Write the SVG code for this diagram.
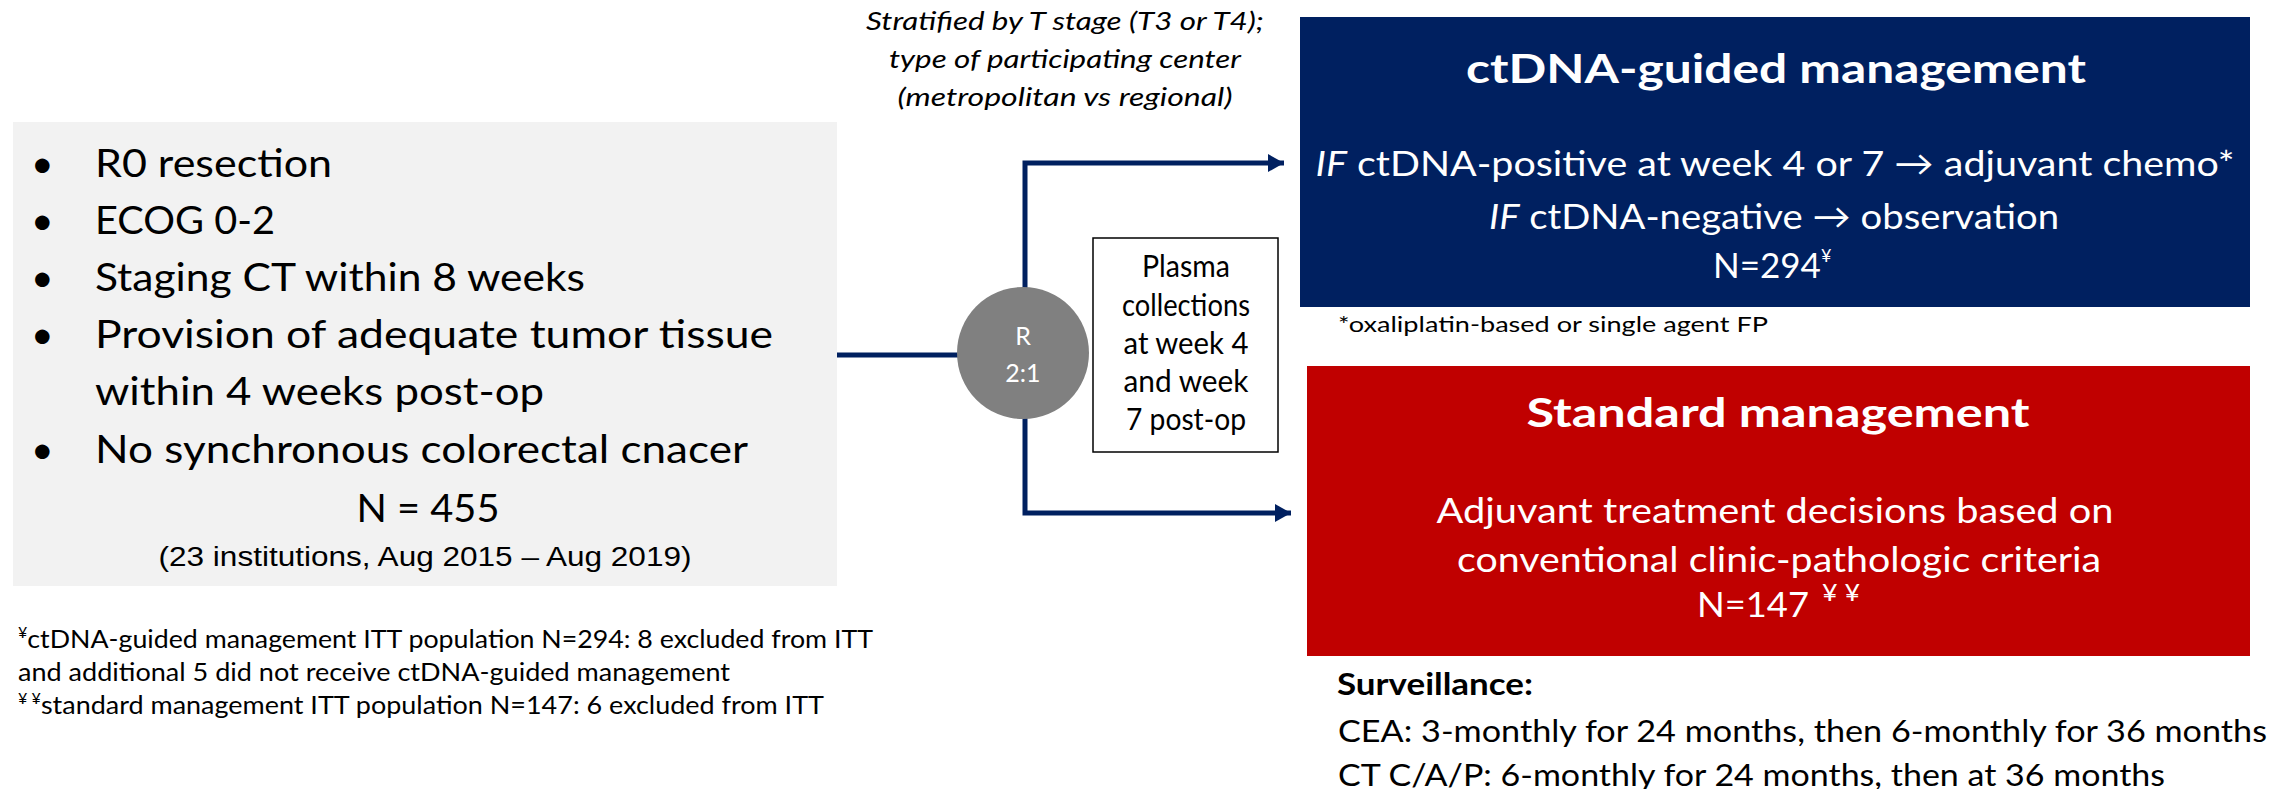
<svg xmlns="http://www.w3.org/2000/svg" width="2295" height="789" viewBox="0 0 2295 789">
<style>
  text { font-family: Lato, "Open Sans", "Liberation Sans", sans-serif; fill: #000; }
  .bul { font-size: 39px; }
  .foot { font-size: 25px; }
  .strat { font-size: 26px; font-style: italic; }
  .w { fill: #fff; }
  .title { font-size: 40px; font-weight: bold; fill: #fff; }
  .body { font-size: 35px; fill: #fff; }
  .plasma { font-size: 30px; }
  .conn { fill: none; stroke: #002060; stroke-width: 5; }
  .surv { font-size: 30px; }
</style>
<defs>
  <marker id="arr" markerUnits="userSpaceOnUse" markerWidth="18" markerHeight="18" refX="16" refY="9" orient="auto">
    <path d="M0,0 L16,9 L0,18 Z" fill="#002060"/>
  </marker>
</defs>
<rect width="2295" height="789" fill="#fff"/>

<g id="eligibility">
  <rect x="13" y="122" width="824" height="464" fill="#f2f2f2"/>
  <g class="bul">
    <text x="31" y="177">•</text><text x="95" y="177" textLength="237" lengthAdjust="spacingAndGlyphs">R0 resection</text>
    <text x="31" y="234">•</text><text x="95" y="234" textLength="180" lengthAdjust="spacingAndGlyphs">ECOG 0-2</text>
    <text x="31" y="291">•</text><text x="95" y="291" textLength="490" lengthAdjust="spacingAndGlyphs">Staging CT within 8 weeks</text>
    <text x="31" y="348">•</text><text x="95" y="348" textLength="678" lengthAdjust="spacingAndGlyphs">Provision of adequate tumor tissue</text>
    <text x="95" y="405" textLength="449" lengthAdjust="spacingAndGlyphs">within 4 weeks post-op</text>
    <text x="31" y="463">•</text><text x="95" y="463" textLength="653" lengthAdjust="spacingAndGlyphs">No synchronous colorectal cnacer</text>
    <text x="428" y="522" text-anchor="middle" textLength="143" lengthAdjust="spacingAndGlyphs">N = 455</text>
  </g>
  <text x="425" y="566" text-anchor="middle" style="font-family:'Liberation Sans',sans-serif;font-size:27px" textLength="533" lengthAdjust="spacingAndGlyphs">(23 institutions, Aug 2015 – Aug 2019)</text>
</g>

<g id="footnotes" class="foot">
  <text x="18" y="648" textLength="855" lengthAdjust="spacingAndGlyphs"><tspan font-size="15" dy="-10">¥</tspan><tspan dy="10">ctDNA-guided management ITT population N=294: 8 excluded from ITT</tspan></text>
  <text x="18" y="681" textLength="712" lengthAdjust="spacingAndGlyphs">and additional 5 did not receive ctDNA-guided management</text>
  <text x="18" y="714" textLength="806" lengthAdjust="spacingAndGlyphs"><tspan font-size="15" dy="-10">¥ ¥</tspan><tspan dy="10">standard management ITT population N=147: 6 excluded from ITT</tspan></text>
</g>

<g id="stratification" class="strat">
  <text x="1065" y="30" text-anchor="middle" textLength="398" lengthAdjust="spacingAndGlyphs">Stratified by T stage (T3 or T4);</text>
  <text x="1065" y="68" text-anchor="middle" textLength="352" lengthAdjust="spacingAndGlyphs">type of participating center</text>
  <text x="1065" y="106" text-anchor="middle" textLength="335" lengthAdjust="spacingAndGlyphs">(metropolitan vs regional)</text>
</g>

<g id="connectors">
  <path class="conn" d="M837 355 H960"/>
  <path class="conn" d="M1025 290 V163 H1284" marker-end="url(#arr)"/>
  <path class="conn" d="M1025 418 V513 H1291" marker-end="url(#arr)"/>
</g>

<g id="randomise">
  <circle cx="1023" cy="353" r="66" fill="#808080"/>
  <text x="1023" y="345" text-anchor="middle" class="w" font-size="25">R</text>
  <text x="1023" y="382" text-anchor="middle" class="w" font-size="25">2:1</text>
</g>

<g id="plasma">
  <rect x="1093" y="238" width="185" height="214" fill="#fff" stroke="#000" stroke-width="1.5"/>
  <g class="plasma">
    <text x="1186" y="277" text-anchor="middle" textLength="88" lengthAdjust="spacingAndGlyphs">Plasma</text>
    <text x="1186" y="316" text-anchor="middle" textLength="128" lengthAdjust="spacingAndGlyphs">collections</text>
    <text x="1186" y="354" text-anchor="middle" textLength="125" lengthAdjust="spacingAndGlyphs">at week 4</text>
    <text x="1186" y="392" text-anchor="middle" textLength="125" lengthAdjust="spacingAndGlyphs">and week</text>
    <text x="1186" y="430" text-anchor="middle" textLength="120" lengthAdjust="spacingAndGlyphs">7 post-op</text>
  </g>
</g>

<g id="ctdna-arm">
  <rect x="1300" y="17" width="950" height="290" fill="#002060"/>
  <text x="1776" y="83" text-anchor="middle" class="title" textLength="620" lengthAdjust="spacingAndGlyphs">ctDNA-guided management</text>
  <text x="1775" y="176" text-anchor="middle" class="body" textLength="919" lengthAdjust="spacingAndGlyphs"><tspan font-style="italic">IF</tspan> ctDNA-positive at week 4 or 7  → adjuvant chemo*</text>
  <text x="1774" y="229" text-anchor="middle" class="body" textLength="570" lengthAdjust="spacingAndGlyphs"><tspan font-style="italic">IF</tspan> ctDNA-negative → observation</text>
  <text x="1713" y="278" class="body">N=294<tspan font-size="18" dy="-16">¥</tspan></text>
</g>
<text id="chemo-note" x="1338" y="332" font-size="21" textLength="430" lengthAdjust="spacingAndGlyphs">*oxaliplatin-based or single agent FP</text>

<g id="standard-arm">
  <rect x="1307" y="366" width="943" height="290" fill="#c00000"/>
  <text x="1778" y="427" text-anchor="middle" class="title" textLength="503" lengthAdjust="spacingAndGlyphs">Standard management</text>
  <text x="1775" y="523" text-anchor="middle" class="body" textLength="677" lengthAdjust="spacingAndGlyphs">Adjuvant treatment decisions based on</text>
  <text x="1779" y="572" text-anchor="middle" class="body" textLength="644" lengthAdjust="spacingAndGlyphs">conventional clinic-pathologic criteria</text>
  <text x="1697" y="617" class="body" textLength="112" lengthAdjust="spacingAndGlyphs">N=147</text>
  <text x="1822" y="601" font-size="24" class="w" textLength="38" lengthAdjust="spacingAndGlyphs">¥ ¥</text>
</g>

<g id="surveillance" class="surv">
  <text x="1337" y="695" font-weight="bold" textLength="196" lengthAdjust="spacingAndGlyphs">Surveillance:</text>
  <text x="1338" y="742" textLength="929" lengthAdjust="spacingAndGlyphs">CEA: 3-monthly for 24 months, then 6-monthly for 36 months</text>
  <text x="1338" y="786" textLength="827" lengthAdjust="spacingAndGlyphs">CT C/A/P: 6-monthly for 24 months, then at 36 months</text>
</g>
</svg>
